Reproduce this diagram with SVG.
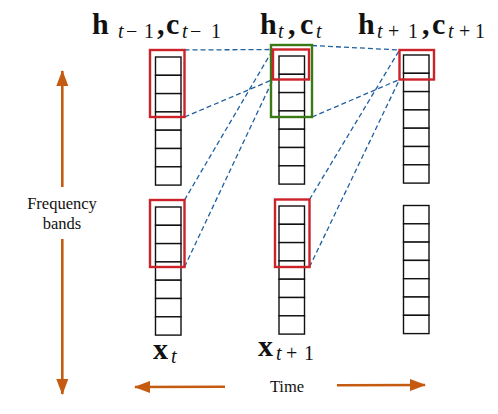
<svg xmlns="http://www.w3.org/2000/svg" width="498" height="414" viewBox="0 0 498 414">
<defs>
<style>
.cell{fill:#fff;stroke:#111;stroke-width:1.4}
.red{fill:none;stroke:#cc2229;stroke-width:2.4}
.green{fill:none;stroke:#3a7a14;stroke-width:2.4}
.dash{fill:none;stroke:#1f5f9f;stroke-width:1.3;stroke-dasharray:5,3}
.arr{fill:none;stroke:#c55a11;stroke-width:2.6}
.lab{font-family:"Liberation Serif",serif;font-size:16.5px;fill:#111}
.m{font-family:"Liberation Serif",serif;font-weight:bold;font-size:30px;fill:#111}
.s{font-family:"Liberation Serif",serif;font-weight:normal;font-size:20px}
.si{font-style:italic}
</style>
<marker id="ah" viewBox="0 0 16 12" refX="15" refY="6" markerWidth="16" markerHeight="12" markerUnits="userSpaceOnUse" orient="auto">
<path d="M0,0 L16,6 L0,12 Z" fill="#c55a11"/>
</marker>
<g id="stack">
<rect class="cell" x="0" y="0" width="25.5" height="18.3"/>
<rect class="cell" x="0" y="18.3" width="25.5" height="18.3"/>
<rect class="cell" x="0" y="36.6" width="25.5" height="18.3"/>
<rect class="cell" x="0" y="54.9" width="25.5" height="18.3"/>
<rect class="cell" x="0" y="73.2" width="25.5" height="18.3"/>
<rect class="cell" x="0" y="91.5" width="25.5" height="18.3"/>
<rect class="cell" x="0" y="109.8" width="25.5" height="18.3"/>
</g>
</defs>
<rect width="498" height="414" fill="#fff"/>

<g id="stack-h-prev"><use href="#stack" x="155.5" y="57"/></g>
<g id="stack-h-cur"><use href="#stack" x="279" y="56"/></g>
<g id="stack-h-next"><use href="#stack" x="403.5" y="55"/></g>
<g id="stack-x-cur"><use href="#stack" x="155.5" y="207"/></g>
<g id="stack-x-next"><use href="#stack" x="279" y="206"/></g>
<g id="stack-x-next2"><use href="#stack" x="403.5" y="205.5"/></g>

<g id="connectors">
<line class="dash" x1="184.5" y1="50" x2="273" y2="49.5"/>
<line class="dash" x1="184.5" y1="117" x2="273" y2="79.5"/>
<line class="dash" x1="184.5" y1="200" x2="273" y2="49.5"/>
<line class="dash" x1="184.5" y1="267" x2="273" y2="79.5"/>
<line class="dash" x1="312" y1="45.5" x2="399.5" y2="50"/>
<line class="dash" x1="312" y1="117" x2="399.5" y2="79.5"/>
<line class="dash" x1="309.5" y1="199.5" x2="399.5" y2="50"/>
<line class="dash" x1="309.5" y1="267" x2="399.5" y2="79.5"/>
</g>

<g id="boxes">
<rect class="red" x="150" y="50" width="34.5" height="67"/>
<rect class="green" x="271" y="45" width="41" height="72"/>
<rect class="red" x="273" y="49.5" width="36" height="30"/>
<rect class="red" x="399.5" y="50" width="34.5" height="29.5"/>
<rect class="red" x="150" y="200" width="34.5" height="67"/>
<rect class="red" x="275" y="199.5" width="34.5" height="67.5"/>
</g>

<g id="labels-top">
<text class="m" y="33.5"><tspan x="92">h</tspan><tspan class="s si" x="118" y="38">t</tspan><tspan class="s" x="126" y="38">−</tspan><tspan class="s" x="144" y="38">1</tspan><tspan x="157" y="33.5">,</tspan><tspan x="166">c</tspan><tspan class="s si" x="182" y="38">t</tspan><tspan class="s" x="190" y="38">−</tspan><tspan class="s" x="211" y="38">1</tspan></text>
<text class="m" y="33.5"><tspan x="260">h</tspan><tspan class="s si" x="278" y="38">t</tspan><tspan x="288" y="33.5">,</tspan><tspan x="300">c</tspan><tspan class="s si" x="316" y="38">t</tspan></text>
<text class="m" y="33.5"><tspan x="358">h</tspan><tspan class="s si" x="377" y="38">t</tspan><tspan class="s" x="388" y="38">+</tspan><tspan class="s" x="408" y="38">1</tspan><tspan x="422" y="33.5">,</tspan><tspan x="432">c</tspan><tspan class="s si" x="448" y="38">t</tspan><tspan class="s" x="459" y="38">+</tspan><tspan class="s" x="475" y="38">1</tspan></text>
</g>

<g id="labels-bottom">
<text class="m" y="359"><tspan x="153">x</tspan><tspan class="s si" x="171" y="363">t</tspan></text>
<text class="m" y="356"><tspan x="258">x</tspan><tspan class="s si" x="276" y="360">t</tspan><tspan class="s" x="286" y="360">+</tspan><tspan class="s" x="304" y="360">1</tspan></text>
</g>

<g id="freq-axis">
<line class="arr" x1="62.3" y1="187" x2="62.3" y2="71" marker-end="url(#ah)"/>
<line class="arr" x1="62.3" y1="239" x2="62.3" y2="394" marker-end="url(#ah)"/>
<text class="lab" x="62" y="209" text-anchor="middle">Frequency</text>
<text class="lab" x="62" y="229" text-anchor="middle">bands</text>
</g>

<g id="time-axis">
<line class="arr" x1="225" y1="386.8" x2="135" y2="387" marker-end="url(#ah)"/>
<line class="arr" x1="337" y1="385.3" x2="425" y2="385" marker-end="url(#ah)"/>
<text class="lab" x="287" y="392" text-anchor="middle">Time</text>
</g>
</svg>
